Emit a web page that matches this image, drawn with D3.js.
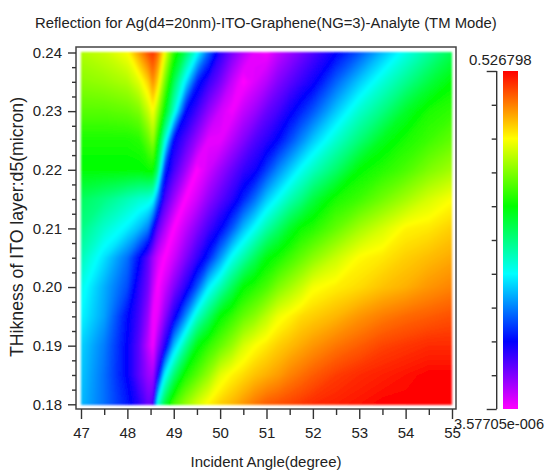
<!DOCTYPE html>
<html>
<head>
<meta charset="utf-8">
<script src="https://cdn.jsdelivr.net/npm/d3@7"></script>
<style>
	html, body { margin: 0; padding: 0; background: #fff; }
	svg { display: block; }
	text { font-family: "Liberation Sans", Arial, sans-serif; fill: #222; }
	.axis path { display: none; }
	.axis line { stroke: #333; stroke-width: 1.4; }
	.axis text { font-size: 15px; fill: #222; }
</style>
</head>
<body>
<svg id="chart" width="545" height="471"></svg>
<script>
// Values
var angles = [47, 47.5, 48, 48.25, 48.45, 48.55, 48.65, 48.8, 49, 49.25, 49.5, 49.75, 50, 50.25, 50.5, 50.75, 51, 51.25, 51.5, 51.75, 52, 52.5, 53, 53.5, 54, 54.5, 55];
var thickness = [0.24, 0.235, 0.23, 0.225, 0.22, 0.215, 0.21, 0.205, 0.2, 0.195, 0.19, 0.185, 0.18];

// Reflection as percent of the colour bar, one row per thickness
var reflection = [
	[74, 76, 80, 88, 94, 96, 92, 80, 64, 53, 41, 28, 17, 11, 6, 2, 1, 5, 8, 11, 14, 20, 27, 35, 42, 48, 54],
	[71, 72, 74, 78, 84, 89, 84, 70, 54, 39, 23, 16, 11, 5, 0, 3, 6, 10, 13, 16, 19, 28, 36, 43, 49, 55, 60],
	[67, 67, 68, 70, 76, 80, 73, 60, 44, 21, 15, 9, 4, 1, 5, 8, 12, 15, 19, 23, 27, 36, 44, 50, 57, 62, 64],
	[62, 62, 62, 63, 68, 72, 62, 44, 20, 14, 8, 2, 2, 6, 10, 14, 17, 21, 26, 31, 36, 44, 51, 58, 62, 65, 68],
	[60, 60, 60, 60, 61, 61, 52, 24, 15, 8, 0, 4, 8, 12, 16, 19, 25, 31, 36, 41, 45, 52, 60, 63, 66, 70, 73],
	[53, 50, 46, 44, 43, 41, 30, 15, 8, 0, 4, 9, 13, 17, 23, 29, 36, 41, 46, 50, 55, 62, 65, 69, 73, 77, 80],
	[50, 44, 39, 35, 30, 21, 13, 7, 0, 5, 10, 15, 20, 27, 35, 41, 47, 52, 57, 61, 63, 68, 73, 77, 81, 82, 84],
	[46, 38, 29, 21, 13, 8, 4, 0, 4, 10, 16, 23, 32, 41, 47, 53, 59, 62, 65, 68, 71, 76, 80.5, 82, 84, 85.5, 87],
	[42, 34, 26, 17, 11, 5, 0, 4, 10, 17, 27, 39, 46, 53, 60, 63, 66, 70, 73, 76, 79.5, 81.5, 83, 85, 86.5, 88.5, 90],
	[40, 33, 21, 15, 8, 1, 2, 9, 18, 31, 44, 52, 60, 64, 68, 71, 75, 79, 81, 83, 84, 86, 88.5, 90.5, 92, 93, 94],
	[37, 30, 20, 13, 5, 1, 8, 17, 35, 48, 59, 64, 68, 72, 77, 80, 82, 84, 85.5, 87, 88.5, 91, 93, 95, 96, 97, 97],
	[36, 29, 20, 13, 8, 7, 17, 39, 51, 62, 67, 72, 78, 81, 83, 85, 86.5, 88, 90, 91.5, 93, 95.5, 97, 98, 99, 100, 100],
	[35, 29, 22, 17, 12, 14, 42, 55, 66, 72, 77, 81, 84, 86, 88.5, 91, 93, 94, 95, 96, 97, 98, 99, 100, 100, 100, 100]
];

var angleTicks = [47, 48, 49, 50, 51, 52, 53, 54, 55];
var angleMinorTicks = [47.5, 48.5, 49.5, 50.5, 51.5, 52.5, 53.5, 54.5];
var thicknessTicks = [0.18, 0.19, 0.2, 0.21, 0.22, 0.23, 0.24];
var thicknessMinorTicks = [0.1825, 0.185, 0.1875, 0.1925, 0.195, 0.1975, 0.2025, 0.205, 0.2075, 0.2125, 0.215, 0.2175, 0.2225, 0.225, 0.2275, 0.2325, 0.235, 0.2375];
var barTicks = [0, 10, 20, 30, 40, 50, 60, 70, 80, 90, 100];
var barLabels = ["0.526798", "3.57705e-006"];
var colourLevels = [0, 20, 40, 60, 80, 100];
var colours = ["#ff00ff", "#0000ff", "#00ffff", "#00ff00", "#ffff00", "#ff0000"];

var svg = d3.select("#chart");

var x = d3.scaleLinear().domain([47, 55]).range([81, 452]);
var y = d3.scaleLinear().domain([0.18, 0.24]).range([404.3, 52.5]);
var barY = d3.scaleLinear().domain([0, 100]).range([409, 71]);
var colour = d3.scaleLinear().domain(colourLevels).range(colours).clamp(true);

// Contour grid indices back to data units, the columns are not evenly spaced
var columnToAngle = d3.scaleLinear().domain(d3.range(angles.length)).range(angles).clamp(true);
var rowToThickness = d3.scaleLinear().domain(d3.range(thickness.length)).range(thickness).clamp(true);

var toScreen = d3.geoTransform({
	point: function(cx, cy){
		this.stream.point(x(columnToAngle(cx - .5)), y(rowToThickness(cy - .5)));
	}
});

var contours = d3.contours()
	.size([angles.length, thickness.length])
	.thresholds(d3.range(0, 100.01, .5))
	(d3.merge(reflection));

var defs = svg.append("defs");

defs.append("filter")
	.attr("id", "soften")
	.append("feGaussianBlur")
		.attr("stdDeviation", .9);

svg.append("g")
	.classed("heat", true)
	.attr("filter", "url(#soften)")
	.selectAll("path")
	.data(contours)
	.enter()
		.append("path")
			.attr("d", d3.geoPath(toScreen))
			.attr("fill", function(d){ return colour(d.value) });

// Frame
svg.append("rect")
	.attr("x", 76)
	.attr("y", 47)
	.attr("width", 380)
	.attr("height", 362)
	.attr("fill", "none")
	.attr("stroke", "#444")
	.attr("stroke-width", 1.5);

// X axis
svg.append("g")
	.attr("class", "axis")
	.attr("transform", "translate(0,409)")
	.call(d3.axisBottom(x).tickValues(angleTicks).tickSize(10).tickPadding(8).tickFormat(d3.format("d")));

svg.append("g")
	.attr("class", "axis")
	.attr("transform", "translate(0,409)")
	.call(d3.axisBottom(x).tickValues(angleMinorTicks).tickSize(6).tickFormat(""));

// Y axis
svg.append("g")
	.attr("class", "axis")
	.attr("transform", "translate(76,0)")
	.call(d3.axisLeft(y).tickValues(thicknessTicks).tickSize(8).tickPadding(6).tickFormat(d3.format(".2f")));

svg.append("g")
	.attr("class", "axis")
	.attr("transform", "translate(76,0)")
	.call(d3.axisLeft(y).tickValues(thicknessMinorTicks).tickSize(4).tickFormat(""));

// Colour bar
var gradient = defs.append("linearGradient")
	.attr("id", "bar_gradient")
	.attr("x1", 0).attr("y1", 1)
	.attr("x2", 0).attr("y2", 0);

gradient.selectAll("stop")
	.data(colourLevels)
	.enter()
		.append("stop")
			.attr("offset", function(d){ return d + "%" })
			.attr("stop-color", function(d){ return colour(d) });

svg.append("rect")
	.attr("x", 503)
	.attr("y", barY(100))
	.attr("width", 15)
	.attr("height", barY(0) - barY(100))
	.attr("fill", "url(#bar_gradient)");

var barAxis = svg.append("g")
	.attr("class", "axis")
	.attr("transform", "translate(496.7,0)")
	.call(d3.axisLeft(barY).tickValues(barTicks).tickSize(5).tickFormat(""));

barAxis.selectAll(".tick line")
	.attr("x2", function(d){ return d == 0 || d == 100 ? -10 : -5 });

barAxis.append("line")
	.attr("x1", 0).attr("x2", 0)
	.attr("y1", barY(100)).attr("y2", barY(0));

// Text
svg.append("text")
	.attr("x", 35)
	.attr("y", 28)
	.style("font-size", "14.85px")
	.text("Reflection for Ag(d4=20nm)-ITO-Graphene(NG=3)-Analyte (TM Mode)");

svg.append("text")
	.attr("x", 266)
	.attr("y", 466.5)
	.attr("text-anchor", "middle")
	.style("font-size", "15px")
	.text("Incident Angle(degree)");

svg.append("text")
	.attr("transform", "translate(22.5,227) rotate(-90)")
	.attr("text-anchor", "middle")
	.style("font-size", "17.7px")
	.text("THikness of ITO layer:d5(micron)");

svg.append("text")
	.attr("x", 469)
	.attr("y", 65)
	.style("font-size", "15px")
	.text(barLabels[0]);

svg.append("text")
	.attr("x", 454)
	.attr("y", 429)
	.style("font-size", "14.6px")
	.text(barLabels[1]);
</script>
</body>
</html>
